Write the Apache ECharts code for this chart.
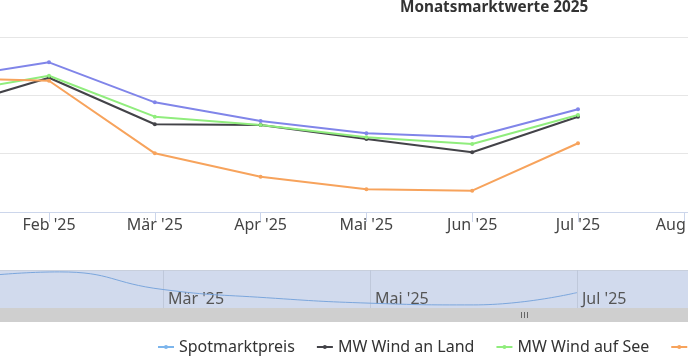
<!DOCTYPE html>
<html>
<head>
<meta charset="utf-8">
<script src="https://cdn.jsdelivr.net/npm/echarts@6/dist/echarts.min.js"></script>
<style>
html,body{margin:0;padding:0;background:#fff;}
#chart{width:688px;height:358px;}
</style>
</head>
<body>
<div id="chart"></div>
<script>
// Monthly categories (index 0 = Jan '25); the crop shows Feb..Aug
const categories = ["Jan '25", "Feb '25", "Mär '25", "Apr '25", "Mai '25", "Jun '25", "Jul '25", "Aug '25"];
// values in ct/kWh
const spotmarktpreis = [11.40, 12.83, 9.40, 7.80, 6.74, 6.40, 8.80];
const mwWindAnLand   = [8.80, 11.51, 7.52, 7.46, 6.26, 5.12, 8.17];
const mwWindAufSee   = [10.10, 11.68, 8.17, 7.46, 6.40, 5.83, 8.31];
const mwSolar        = [11.48, 11.25, 5.03, 3.03, 1.95, 1.83, 5.89];
const yTicks = [0, 5, 10, 15];
const mainTickMonths = [1, 2, 3, 4, 5, 6, 7];       // Feb .. Aug
const navigatorTickMonths = [0, 2, 4, 6];           // Jan, Mär, Mai, Jul

const FONT = 'Noto Sans';
const chart = echarts.init(document.getElementById('chart'), null, {renderer: 'canvas'});

function pairs(arr) { return arr.map(function (v, i) { return [i, v]; }); }

function lineSeries(name, data, color) {
  return {
    name: name, type: 'line', data: pairs(data),
    xAxisIndex: 0, yAxisIndex: 0,
    symbol: 'circle', symbolSize: 4, showSymbol: true,
    lineStyle: {width: 2, color: color},
    itemStyle: {color: color},
    clip: true
  };
}

const option = {
  animation: false,
  backgroundColor: '#ffffff',
  title: {
    text: 'Monatsmarktwerte 2025',
    left: 395, top: -5,
    textStyle: {fontSize: 15.3, fontWeight: 'bold', color: '#333333', fontFamily: FONT}
  },
  legend: {
    left: 152, top: 334, width: 1400,
    itemWidth: 16, itemHeight: 5, itemGap: 21,
    textStyle: {fontSize: 16, color: '#333333', fontFamily: FONT},
    data: [
      {name: 'Spotmarktpreis', itemStyle: {color: '#7cb5ec'}, lineStyle: {color: '#7cb5ec'}},
      {name: 'MW Wind an Land'},
      {name: 'MW Wind auf See'},
      {name: 'MW Solar'}
    ]
  },
  grid: [
    {left: 0, right: 0, top: 37, bottom: 146, outerBoundsMode: 'none', containLabel: false},
    {left: 0, right: 0, top: 270, bottom: 50, show: true, outerBoundsMode: 'none', containLabel: false,
     backgroundColor: '#d1daed', borderWidth: 0}
  ],
  xAxis: [
    {
      gridIndex: 0, type: 'value', min: 0.5369, max: 7.0397,
      axisLine: {show: true, onZero: false, lineStyle: {color: '#ccd6eb', width: 1}},
      axisTick: {show: true, length: 10, customValues: mainTickMonths, lineStyle: {color: '#ccd6eb'}},
      axisLabel: {customValues: mainTickMonths, margin: 5, color: '#444444', fontSize: 16, fontFamily: FONT,
                  hideOverlap: false,
                  formatter: function (v) { return categories[Math.round(v)]; }},
      splitLine: {show: false}
    },
    {
      gridIndex: 1, type: 'value', min: 0.4251, max: 7.0725,
      axisLine: {show: false},
      axisTick: {show: false, customValues: navigatorTickMonths},
      axisLabel: {
        inside: true, customValues: navigatorTickMonths,
        align: 'left', verticalAlign: 'bottom', margin: 1, padding: [0, 0, 0, 5],
        color: '#555555', fontSize: 16, fontFamily: FONT,
        formatter: function (v) { return categories[Math.round(v)]; }
      },
      splitLine: {show: true, lineStyle: {color: '#bfc8da', width: 1}}
    }
  ],
  yAxis: [
    {
      gridIndex: 0, type: 'value', min: yTicks[0], max: yTicks[yTicks.length - 1], interval: 5,
      axisLabel: {show: false}, axisLine: {show: false}, axisTick: {show: false},
      splitLine: {show: true, lineStyle: {color: '#e6e6e6', width: 1}}
    },
    {
      gridIndex: 1, type: 'value', min: 5.8, max: 13.2,
      axisLabel: {show: false}, axisLine: {show: false}, axisTick: {show: false},
      splitLine: {show: false}
    }
  ],
  series: [
    lineSeries('Spotmarktpreis', spotmarktpreis, '#8085e9'),
    lineSeries('MW Wind an Land', mwWindAnLand, '#434348'),
    lineSeries('MW Wind auf See', mwWindAufSee, '#90ed7d'),
    lineSeries('MW Solar', mwSolar, '#f7a35c'),
    {
      name: 'Spotmarktpreis', type: 'line', data: pairs(spotmarktpreis),
      xAxisIndex: 1, yAxisIndex: 1, smooth: true, showSymbol: false, clip: true,
      lineStyle: {width: 1, color: '#7ba6dc'}, itemStyle: {color: '#7cb5ec'},
      silent: true
    }
  ],
  graphic: [
    {type: 'line', shape: {x1: 0, y1: 270.5, x2: 688, y2: 270.5}, style: {stroke: '#c8cfdc', lineWidth: 1}, silent: true},
    {type: 'rect', shape: {x: 0, y: 308, width: 688, height: 14}, style: {fill: '#cfcfcf'}, silent: true},
    {type: 'line', shape: {x1: 521.5, y1: 312, x2: 521.5, y2: 318}, style: {stroke: '#666666', lineWidth: 1}, silent: true},
    {type: 'line', shape: {x1: 524.5, y1: 312, x2: 524.5, y2: 318}, style: {stroke: '#666666', lineWidth: 1}, silent: true},
    {type: 'line', shape: {x1: 527.5, y1: 312, x2: 527.5, y2: 318}, style: {stroke: '#666666', lineWidth: 1}, silent: true}
  ]
};
chart.setOption(option);
</script>
</body>
</html>
